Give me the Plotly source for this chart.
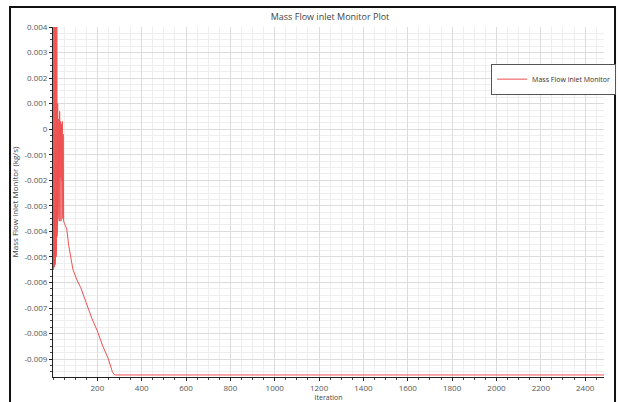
import plotly.graph_objects as go

# Monitor history: iteration number and mass flow at the inlet (kg/s)
iteration = [
    1, 2, 3, 4, 5, 6, 7, 8, 9, 10, 11, 12, 13, 14, 15, 16, 17, 18, 19, 20,
    21, 22, 23, 24, 26, 28, 30, 32, 34, 36, 38, 40, 42, 44, 46, 48,
    52, 56, 62, 70, 80, 90, 108, 125, 150, 175, 200, 225, 250, 268, 278,
    300, 600, 1000, 1500, 2000, 2485,
]
mass_flow = [
    0.0040, -0.0055, 0.0040, -0.0052, 0.0040, -0.0054, 0.0039, -0.0050, 0.0040, -0.0053,
    0.0038, -0.0048, 0.0040, -0.0050, 0.0036, -0.0046, 0.0040, -0.0042, 0.0032, -0.0038,
    0.0010, -0.0035, 0.0007, -0.0030, 0.0004, -0.0036, 0.0007, -0.0019, 0.0003, -0.0036,
    0.0002, -0.0020, 0.0003, -0.0035, -0.0002, -0.0036,
    -0.0037, -0.0038, -0.0039, -0.0045, -0.0051, -0.0055, -0.0059, -0.0062, -0.0068,
    -0.0074, -0.0079, -0.0085, -0.0090, -0.0095, -0.00962,
    -0.00962, -0.00962, -0.00962, -0.00962, -0.00962, -0.00962,
]

x_ticks = [200, 400, 600, 800, 1000, 1200, 1400, 1600, 1800, 2000, 2200, 2400]
y_ticks = [0.004, 0.003, 0.002, 0.001, 0, -0.001, -0.002, -0.003, -0.004,
           -0.005, -0.006, -0.007, -0.008, -0.009]
y_tick_text = ["0.004", "0.003", "0.002", "0.001", "0", "-0.001", "-0.002", "-0.003",
               "-0.004", "-0.005", "-0.006", "-0.007", "-0.008", "-0.009"]

FONT = "Open Sans"

fig = go.Figure()
fig.add_trace(go.Scatter(
    x=iteration, y=mass_flow, mode="lines",
    name="Mass Flow inlet Monitor",
    line=dict(color="rgb(238,80,80)", width=1),
))

fig.update_layout(
    width=618, height=402,
    margin=dict(l=53, r=14, t=27, b=25, autoexpand=False),
    paper_bgcolor="white", plot_bgcolor="white",
    title=dict(text="Mass Flow inlet Monitor Plot", x=0.534, xanchor="center",
               y=0.957, yanchor="middle",
               font=dict(family=FONT, size=9, color="#444")),
    showlegend=True,
    legend=dict(x=1.022, xanchor="right", y=0.851, yanchor="middle",
                bgcolor="white", bordercolor="#555", borderwidth=1,
                font=dict(family=FONT, size=7, color="#333"),
                itemwidth=30, tracegroupgap=0),
    xaxis=dict(
        range=[0, 2485], tickvals=x_ticks,
        showline=True, linecolor="#222", linewidth=1,
        ticks="outside", ticklen=3, tickcolor="#222",
        showgrid=True, gridcolor="#dcdcdc", gridwidth=1, zeroline=False,
        minor=dict(dtick=50, tick0=0, showgrid=True, gridcolor="#eeeeee",
                   ticks="outside", ticklen=2, tickcolor="#444"),
        tickfont=dict(family=FONT, size=8, color="#555"),
        title=dict(text="Iteration", standoff=2,
                   font=dict(family=FONT, size=7, color="#444")),
    ),
    yaxis=dict(
        range=[-0.0097, 0.004], tickvals=y_ticks, ticktext=y_tick_text,
        showline=True, linecolor="#222", linewidth=1,
        ticks="outside", ticklen=3, tickcolor="#222",
        showgrid=True, gridcolor="#dcdcdc", gridwidth=1, zeroline=False,
        minor=dict(dtick=0.00025, tick0=0, showgrid=True, gridcolor="#eeeeee",
                   ticks="outside", ticklen=2, tickcolor="#444"),
        tickfont=dict(family=FONT, size=8, color="#555"),
        title=dict(text="Mass Flow inlet Monitor (kg/s)", standoff=4,
                   font=dict(family=FONT, size=8, color="#444")),
    ),
)

# Outer frame around the whole plot panel
fig.add_shape(type="rect", xref="paper", yref="paper",
              x0=-0.078, x1=1.020, y0=-0.2, y1=1.057,
              line=dict(color="#111", width=2), fillcolor="rgba(0,0,0,0)",
              layer="above")

fig.write_html("out.html")
